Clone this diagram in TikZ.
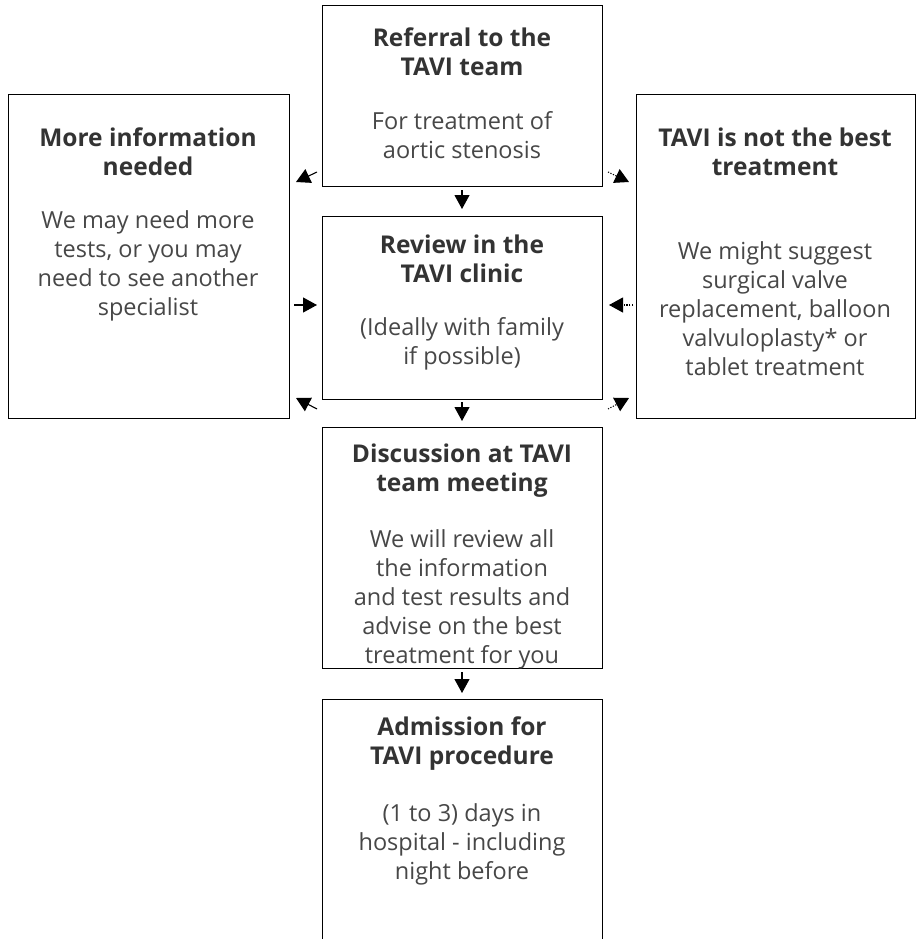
\documentclass[tikz,border=0pt]{standalone}
\usepackage{fontspec}
\setmainfont{Open Sans}
\usetikzlibrary{arrows.meta}
\definecolor{txt}{HTML}{474747}
\definecolor{ttl}{HTML}{333333}
\tikzset{
  box/.style={draw=black, line width=1.4pt, minimum width=#1, inner sep=0pt, anchor=north west},
  ttext/.style={text=ttl, font=\fontsize{24.5}{29}\selectfont\bfseries, align=center, inner sep=0pt},
  btext/.style={text=txt, font=\fontsize{23.5}{29}\selectfont, align=center, inner sep=0pt},
  conn/.style={line width=1.1pt, -{Triangle[width=15pt,length=14pt]}},
  dconn/.style={line width=1.1pt, dash pattern=on 1.2pt off 1.5pt, -{Triangle[width=15pt,length=14pt]}}
}
\begin{document}
\begin{tikzpicture}[x=1pt,y=-1pt]
\useasboundingbox (0,0) rectangle (917,939);
% boxes
\node[box=280pt, minimum height=181pt] (A) at (322,5) {};
\node[box=280pt, minimum height=183pt] (B) at (322,216) {};
\node[box=280pt, minimum height=241pt] (C) at (322,427) {};
\node[box=280pt, minimum height=260pt] (D) at (322,699) {};
\node[box=281pt, minimum height=324pt] (L) at (8,94) {};
\node[box=279pt, minimum height=324pt] (R) at (636,94) {};
% texts
\node[ttext] (At) at (462,51.5) {Referral to the\\TAVI team};
\node[btext] (Ab) at (462,135) {For treatment of\\aortic stenosis};
\node[ttext] (Bt) at (462,259) {Review in the\\TAVI clinic};
\node[btext] (Bb) at (462,344) {(Ideally with family\\if possible)};
\node[ttext] (Ct) at (462,470.5) {Discussion at TAVI\\team meeting};
\node[btext] (Cb) at (462,599) {We will review all\\the information\\and test results and\\advise on the best\\treatment for you};
\node[ttext] (Dt) at (462,743.5) {Admission for\\TAVI procedure};
\node[btext] (Db) at (462,844) {(1 to 3) days in\\hospital - including\\night before};
\node[ttext] (Lt) at (148,151.5) {More information\\needed};
\node[btext] (Lb) at (148,265.5) {We may need more\\tests, or you may\\need to see another\\specialist};
\node[ttext] (Rt) at (775,151.5) {TAVI is not the best\\treatment};
\node[btext] (Rb) at (775,308.5) {We might suggest\\surgical valve\\replacement, balloon\\valvuloplasty* or\\tablet treatment};
% connector end points
\coordinate (a1) at (462,190); \coordinate (b0) at (462,209);
\coordinate (b1) at (462,402); \coordinate (c0) at (462,421);
\coordinate (c1) at (462,672); \coordinate (d0) at (462,693);
\coordinate (al) at (317,172); \coordinate (lt) at (296,182);
\coordinate (ar) at (608,172); \coordinate (rt) at (629,182);
\coordinate (cl) at (317,409); \coordinate (lb) at (296,398);
\coordinate (cr) at (608,409); \coordinate (rb) at (629,398);
\coordinate (lm) at (294,305); \coordinate (bl) at (317,305);
\coordinate (rm) at (633,305); \coordinate (br) at (609,305);
% connectors
\draw[conn] (a1) -- (b0);
\draw[conn] (b1) -- (c0);
\draw[conn] (c1) -- (d0);
\draw[conn] (al) -- (lt);
\draw[dconn] (ar) -- (rt);
\draw[conn] (cl) -- (lb);
\draw[dconn] (cr) -- (rb);
\draw[conn] (lm) -- (bl);
\draw[dconn] (rm) -- (br);
\end{tikzpicture}
\end{document}
